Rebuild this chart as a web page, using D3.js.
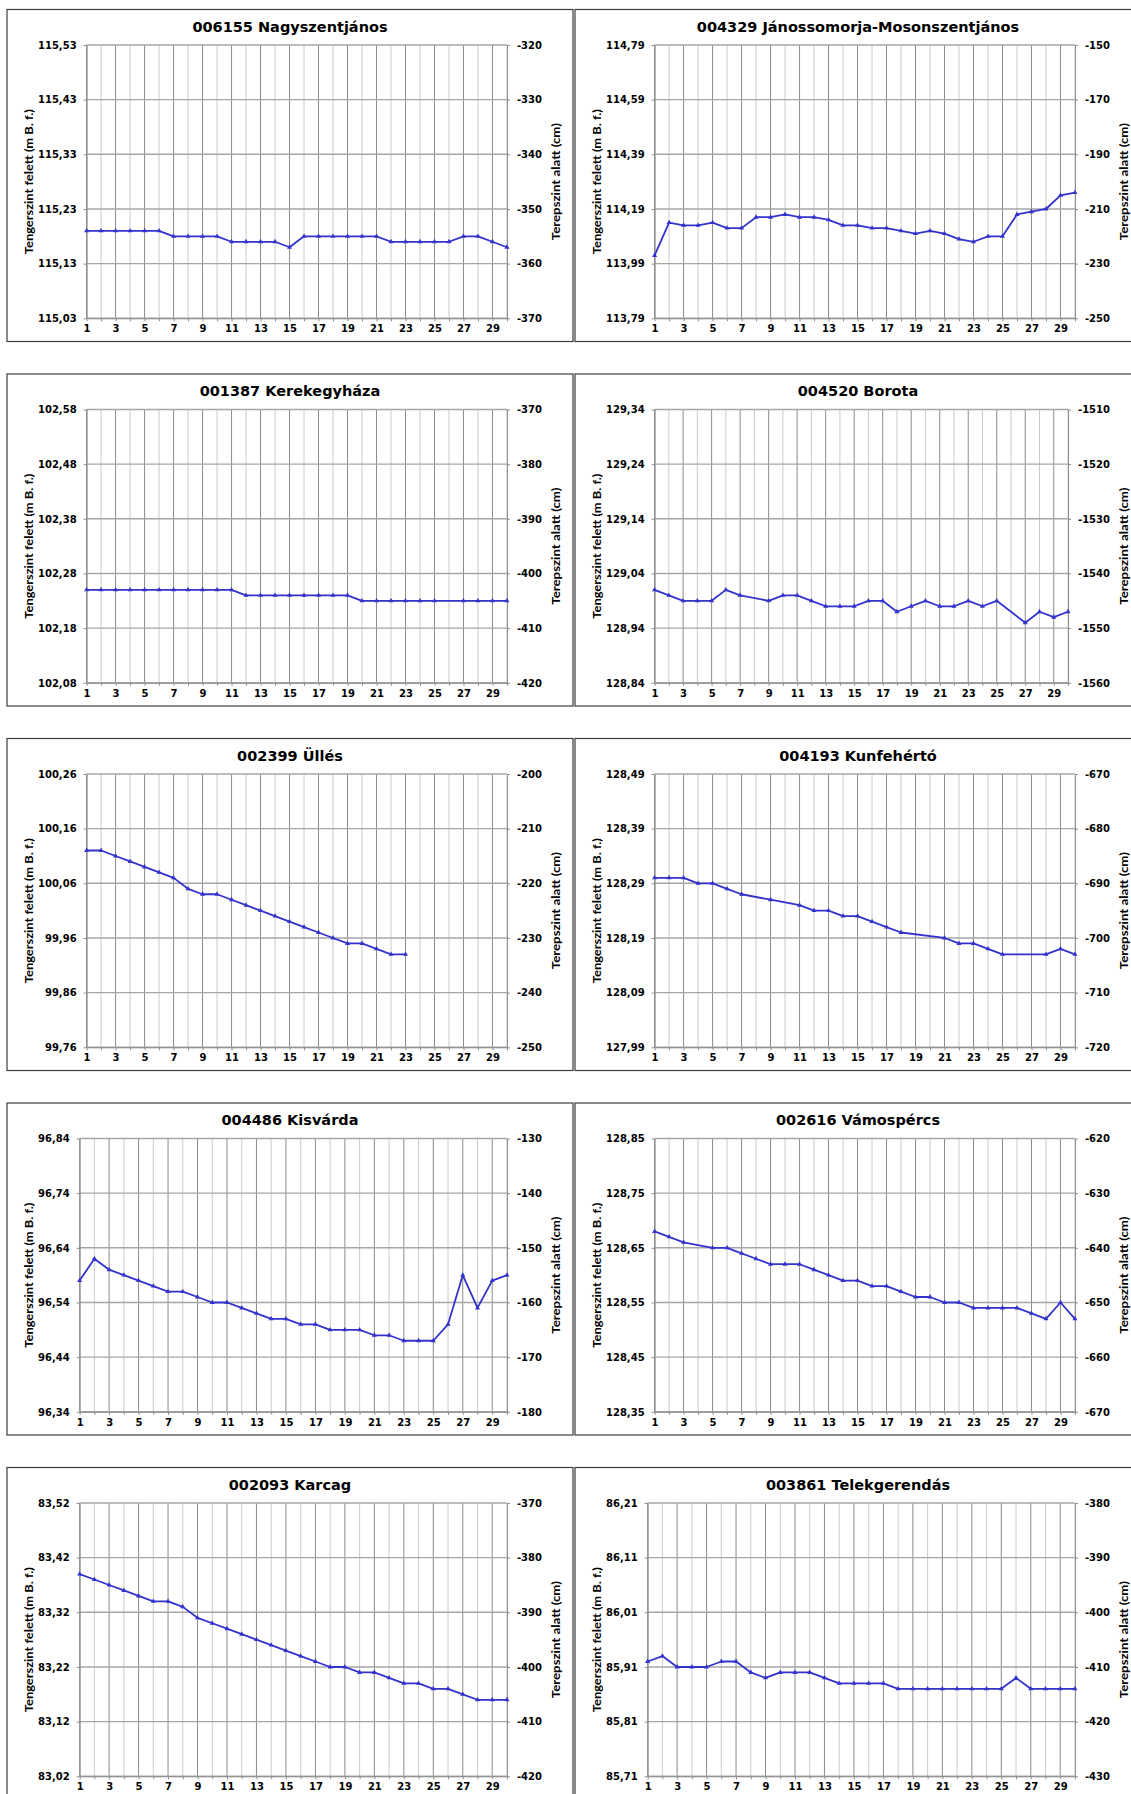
<!DOCTYPE html>
<html>
<head>
<meta charset="utf-8">
<script src="https://cdn.jsdelivr.net/npm/d3@7"></script>
<style>
  body { margin: 0; background: #fff; }
  svg text { font-family: "DejaVu Sans", sans-serif; font-weight: bold; fill: #000; }
</style>
</head>
<body>
<script>
// napok (x tengely)
const days = d3.range(1, 31);

const stations = [
  "006155 Nagyszentjános", "004329 Jánossomorja-Mosonszentjános",
  "001387 Kerekegyháza", "004520 Borota",
  "002399 Üllés", "004193 Kunfehértó",
  "004486 Kisvárda", "002616 Vámospércs",
  "002093 Karcag", "003861 Telekgerendás"
];

// vízszint terepszint alatt (cm), null = nincs adat
const nagyszentjanos = [-354,-354,-354,-354,-354,-354,-355,-355,-355,-355,-356,-356,-356,-356,-357,-355,-355,-355,-355,-355,-355,-356,-356,-356,-356,-356,-355,-355,-356,-357];
const janossomorja = [-227,-215,-216,-216,-215,-217,-217,-213,-213,-212,-213,-213,-214,-216,-216,-217,-217,-218,-219,-218,-219,-221,-222,-220,-220,-212,-211,-210,-205,-204];
const kerekegyhaza = [-403,-403,-403,-403,-403,-403,-403,-403,-403,-403,-403,-404,-404,-404,-404,-404,-404,-404,-404,-405,-405,-405,-405,-405,-405,null,-405,-405,-405,-405];
const borota = [-1543,-1544,-1545,-1545,-1545,-1543,-1544,null,-1545,-1544,-1544,-1545,-1546,-1546,-1546,-1545,-1545,-1547,-1546,-1545,-1546,-1546,-1545,-1546,-1545,null,-1549,-1547,-1548,-1547];
const ulles = [-214,-214,-215,-216,-217,-218,-219,-221,-222,-222,-223,-224,-225,-226,-227,-228,-229,-230,-231,-231,-232,-233,-233,null,null,null,null,null,null,null];
const kunfeherto = [-689,-689,-689,-690,-690,-691,-692,null,-693,null,-694,-695,-695,-696,-696,-697,-698,-699,null,null,-700,-701,-701,-702,-703,null,null,-703,-702,-703];
const kisvarda = [-156,-152,-154,-155,-156,-157,-158,-158,-159,-160,-160,-161,-162,-163,-163,-164,-164,-165,-165,-165,-166,-166,-167,-167,-167,-164,-155,-161,-156,-155];
const vamospercs = [-637,-638,-639,null,-640,-640,-641,-642,-643,-643,-643,-644,-645,-646,-646,-647,-647,-648,-649,-649,-650,-650,-651,-651,-651,-651,-652,-653,-650,-653];
const karcag = [-383,-384,-385,-386,-387,-388,-388,-389,-391,-392,-393,-394,-395,-396,-397,-398,-399,-400,-400,-401,-401,-402,-403,-403,-404,-404,-405,-406,-406,-406];
const telekgerendas = [-409,-408,-410,-410,-410,-409,-409,-411,-412,-411,-411,-411,-412,-413,-413,-413,-413,-414,-414,-414,-414,-414,-414,-414,-414,-412,-414,-414,-414,-414];

const series = [nagyszentjanos, janossomorja, kerekegyhaza, borota, ulles,
                kunfeherto, kisvarda, vamospercs, karcag, telekgerendas];

// bal tengely: tengerszint felett (m B. f.)
const leftTicks = [
  [115.53, 115.43, 115.33, 115.23, 115.13, 115.03],
  [114.79, 114.59, 114.39, 114.19, 113.99, 113.79],
  [102.58, 102.48, 102.38, 102.28, 102.18, 102.08],
  [129.34, 129.24, 129.14, 129.04, 128.94, 128.84],
  [100.26, 100.16, 100.06, 99.96, 99.86, 99.76],
  [128.49, 128.39, 128.29, 128.19, 128.09, 127.99],
  [96.84, 96.74, 96.64, 96.54, 96.44, 96.34],
  [128.85, 128.75, 128.65, 128.55, 128.45, 128.35],
  [83.52, 83.42, 83.32, 83.22, 83.12, 83.02],
  [86.21, 86.11, 86.01, 85.91, 85.81, 85.71]
];

// jobb tengely: terepszint alatt (cm)
const rightTicks = [
  [-320, -330, -340, -350, -360, -370],
  [-150, -170, -190, -210, -230, -250],
  [-370, -380, -390, -400, -410, -420],
  [-1510, -1520, -1530, -1540, -1550, -1560],
  [-200, -210, -220, -230, -240, -250],
  [-670, -680, -690, -700, -710, -720],
  [-130, -140, -150, -160, -170, -180],
  [-620, -630, -640, -650, -660, -670],
  [-370, -380, -390, -400, -410, -420],
  [-380, -390, -400, -410, -420, -430]
];

const W = 1131, H = 1794;
const panelW = 566, panelH = 332;
const colX = [7, 575];
const rowY0 = 9.5, rowStep = 364.5;
const plotTop = 35.5, plotBottom = 308.8;
const lineColor = "#3333cc";

const svg = d3.select("body").append("svg")
    .attr("width", W)
    .attr("height", H);

const fmtLeft = d => d.toFixed(2).replace(".", ",");
const fmtRight = d => String(d);

// szövegszélesség méréshez
function textWidth(str, size) {
  const t = svg.append("text").attr("font-size", size).text(str);
  const w = t.node().getComputedTextLength();
  t.remove();
  return w;
}

stations.forEach((name, i) => {
  const px = colX[i % 2];
  const py = rowY0 + Math.floor(i / 2) * rowStep;
  const g = svg.append("g").attr("transform", `translate(${px},${py})`);

  g.append("rect")
      .attr("width", panelW)
      .attr("height", panelH)
      .attr("fill", "#fff")
      .attr("stroke", "#3c3c3c")
      .attr("stroke-width", 1.2);

  const lw = d3.max(leftTicks[i], d => textWidth(fmtLeft(d), 10));
  const rw = d3.max(rightTicks[i], d => textWidth(fmtRight(d), 10));
  const axL = 31 + lw + 10;
  const axR = panelW - 31 - rw - 10;

  const x = d3.scaleLinear().domain([1, 30]).range([axL, axR]);
  const yL = d3.scaleLinear().domain(d3.extent(leftTicks[i])).range([plotBottom, plotTop]);
  const yR = d3.scaleLinear().domain(d3.extent(rightTicks[i])).range([plotBottom, plotTop]);

  // függőleges rácsvonalak: páratlan napok sötétebbek
  g.selectAll(".vgrid")
    .data(days)
    .enter()
    .append("line")
      .attr("x1", d => x(d)).attr("x2", d => x(d))
      .attr("y1", plotTop).attr("y2", plotBottom)
      .attr("stroke", d => d % 2 ? "#8c8c8c" : "#cbcbcb")
      .attr("stroke-width", 1);

  g.selectAll(".hgrid")
    .data(rightTicks[i])
    .enter()
    .append("line")
      .attr("x1", axL).attr("x2", axR)
      .attr("y1", d => yR(d)).attr("y2", d => yR(d))
      .attr("stroke", "#a6a6a6")
      .attr("stroke-width", 1.4);

  const leftAxis = g.append("g")
      .attr("transform", `translate(${axL},0)`)
      .call(d3.axisLeft(yL).tickValues(leftTicks[i]).tickFormat(fmtLeft)
              .tickSizeInner(3).tickSizeOuter(0).tickPadding(7));
  const rightAxis = g.append("g")
      .attr("transform", `translate(${axR},0)`)
      .call(d3.axisRight(yR).tickValues(rightTicks[i]).tickFormat(fmtRight)
              .tickSizeInner(3).tickSizeOuter(0).tickPadding(7));
  const bottomAxis = g.append("g")
      .attr("transform", `translate(0,${plotBottom})`)
      .call(d3.axisBottom(x).tickValues(days).tickFormat(d => d % 2 ? d : "")
              .tickSizeInner(3).tickSizeOuter(0).tickPadding(4));

  [leftAxis, rightAxis, bottomAxis].forEach(a => {
    a.attr("font-family", null).attr("font-size", 10);
    a.selectAll("path, line").attr("stroke", "#8c8c8c");
    a.selectAll("text").attr("fill", "#000");
  });

  g.append("text")
      .attr("x", panelW / 2)
      .attr("y", 22)
      .attr("text-anchor", "middle")
      .attr("font-size", 14.5)
      .text(name);

  const midY = (plotTop + plotBottom) / 2;
  g.append("text")
      .attr("transform", `translate(21,${midY}) rotate(-90)`)
      .attr("text-anchor", "middle")
      .attr("dominant-baseline", "central")
      .attr("font-size", 11.5)
      .attr("textLength", 145)
      .attr("lengthAdjust", "spacingAndGlyphs")
      .style("font-family", "Lato, sans-serif")
      .text("Tengerszint felett (m B. f.)");

  g.append("text")
      .attr("transform", `translate(${panelW - 17.5},${midY}) rotate(-90)`)
      .attr("text-anchor", "middle")
      .attr("dominant-baseline", "central")
      .attr("font-size", 11.5)
      .attr("textLength", 117)
      .attr("lengthAdjust", "spacingAndGlyphs")
      .style("font-family", "Lato, sans-serif")
      .text("Terepszint alatt (cm)");

  const pts = days.map((d, j) => [d, series[i][j]]).filter(p => p[1] != null);

  const line = d3.line()
      .x(p => x(p[0]))
      .y(p => yR(p[1]));

  g.append("path")
      .datum(pts)
      .attr("d", line)
      .attr("fill", "none")
      .attr("stroke", lineColor)
      .attr("stroke-width", 1.8)
      .attr("stroke-linejoin", "round");

  g.selectAll(".mark")
    .data(pts)
    .enter()
    .append("path")
      .attr("transform", p => `translate(${x(p[0])},${yR(p[1])})`)
      .attr("d", d3.symbol(d3.symbolTriangle, 11))
      .attr("fill", lineColor);
});
</script>
</body>
</html>
